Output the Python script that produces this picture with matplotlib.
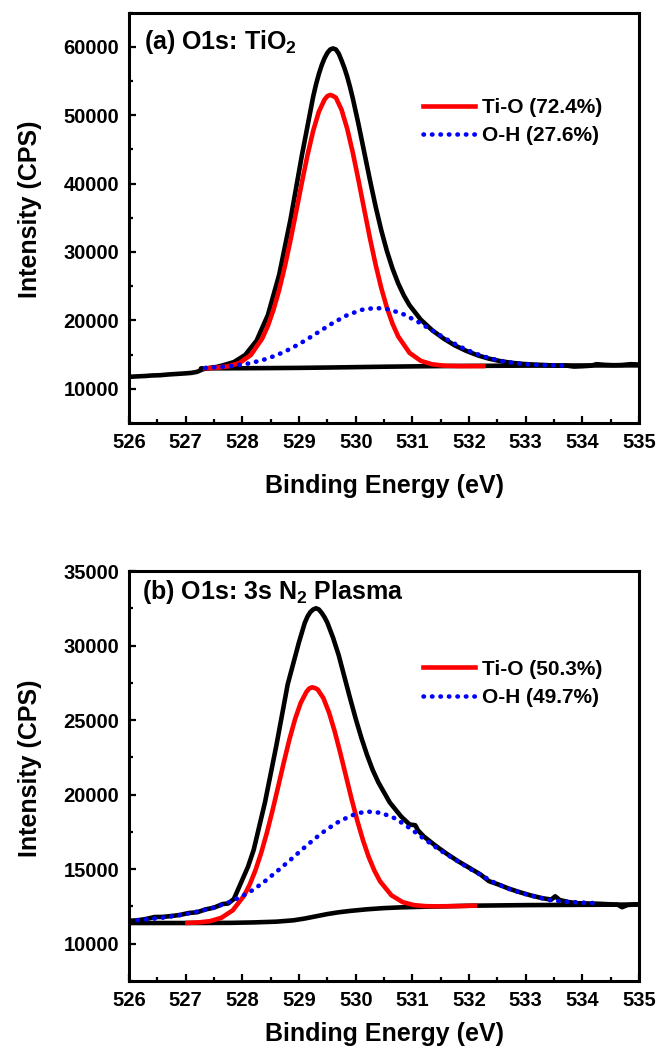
import matplotlib
matplotlib.use('Agg')
import matplotlib.pyplot as plt
from matplotlib.ticker import MultipleLocator

plt.rcParams['font.family'] = ['Liberation Sans', 'DejaVu Sans']
plt.rcParams['font.weight'] = 'bold'
plt.rcParams['mathtext.fontset'] = 'custom'
plt.rcParams['mathtext.rm'] = 'Liberation Sans:bold'
plt.rcParams['mathtext.bf'] = 'Liberation Sans:bold'
plt.rcParams['mathtext.it'] = 'Liberation Sans:bold'

# ---- (a) O1s of as-deposited TiO2 ----
a_raw_E = [526.00, 526.15, 526.30, 526.40, 526.55, 526.70, 526.85, 527.00, 527.10, 527.20,
           527.30, 527.45, 527.55, 527.65, 527.85, 528.05, 528.25, 528.45, 528.65, 528.85,
           529.05, 529.25, 529.30, 529.35, 529.40, 529.45, 529.50, 529.55, 529.60, 529.65,
           529.70, 529.75, 529.80, 529.85, 529.90, 529.95, 530.05,
           530.15, 530.25, 530.35, 530.45, 530.55, 530.65, 530.75, 530.85, 530.95, 531.15,
           531.35, 531.55, 531.75, 531.95, 532.15, 532.35, 532.55, 532.75, 532.95, 533.15,
           533.35, 533.55, 533.70, 533.85, 534.00, 534.15, 534.25, 534.40, 534.55, 534.70,
           534.85, 535.00]
a_raw_I = [11750, 11820, 11880, 11950, 11990, 12100, 12180, 12260, 12330, 12480,
           12850, 13100, 13200, 13420, 13905, 14950, 17030, 20780, 26700, 34800,
           44110, 52720, 54500, 56020, 57300, 58320, 59100, 59600, 59750, 59600,
           59000, 58000, 56900, 55620, 54100, 52410, 48640,
           44600, 40560, 36700, 33200, 30150, 27560, 25400, 23640, 22210, 20090,
           18560, 17355, 16340, 15550, 14900, 14410, 14050, 13800, 13640, 13540,
           13470, 13380, 13420, 13250, 13300, 13380, 13600, 13500, 13450, 13480,
           13600, 13550]

a_tio_E = [527.35, 527.55, 527.75, 527.95, 528.15, 528.35, 528.45, 528.55, 528.65, 528.75,
           528.85, 528.95, 529.05, 529.15, 529.25, 529.35, 529.45, 529.50, 529.55, 529.60,
           529.65, 529.75, 529.85, 529.95, 530.05, 530.15, 530.25, 530.35, 530.45, 530.55,
           530.65, 530.75, 530.95, 531.15, 531.35, 531.55, 531.85, 532.25]
a_tio_I = [13000, 13090, 13280, 13780, 14950, 17350, 19200, 21580, 24480, 27900,
           31760, 35930, 40150, 44180, 47730, 50510, 52280, 52780, 52950, 52800,
           52560, 50790, 48010, 44470, 40440, 36210, 32060, 28190, 24760, 21870,
           19500, 17650, 15250, 14080, 13580, 13390, 13320, 13320]

a_oh_E = [527.35, 527.60, 527.85, 528.10, 528.35, 528.60, 528.85, 529.10, 529.35, 529.60,
          529.85, 530.10, 530.35, 530.60, 530.85, 531.10, 531.35, 531.60, 531.85, 532.10,
          532.35, 532.60, 532.85, 533.10, 533.35, 533.70]
a_oh_I = [13060, 13180, 13370, 13690, 14180, 14890, 15850, 17020, 18330, 19640,
          20770, 21540, 21830, 21590, 20870, 19790, 18530, 17260, 16120, 15190,
          14500, 14020, 13720, 13540, 13450, 13380]

a_bg_E = [527.27, 528.0, 528.5, 529.0, 529.5, 530.0, 530.5, 531.0, 531.5, 532.0, 533.0, 534.0, 535.0]
a_bg_I = [12990, 13010, 13030, 13060, 13110, 13170, 13230, 13280, 13320, 13350, 13390, 13410, 13430]

# ---- (b) O1s after 3 s N2 plasma ----
b_raw_E = [526.00, 526.15, 526.30, 526.45, 526.60, 526.75, 526.90, 527.05, 527.20, 527.35,
           527.50, 527.65, 527.75, 527.85, 528.00, 528.10, 528.20, 528.40, 528.60, 528.80,
           529.00, 529.10, 529.15, 529.20, 529.25, 529.30, 529.35, 529.40, 529.45, 529.50,
           529.60, 529.70, 529.80, 529.90,
           530.00, 530.10, 530.20, 530.30, 530.40, 530.50, 530.60, 530.80, 530.95, 531.05,
           531.10, 531.20, 531.40, 531.60, 531.80, 532.00, 532.20, 532.35, 532.50, 532.70,
           532.90, 533.10, 533.30, 533.45, 533.52, 533.60, 533.75, 533.90, 534.10, 534.30,
           534.50, 534.62, 534.70, 534.80, 535.00]
b_raw_I = [11540, 11570, 11660, 11790, 11800, 11860, 11930, 12060, 12110, 12300,
           12420, 12660, 12700, 13000, 14300, 15170, 16300, 19500, 23300, 27400,
           30240, 31510, 31950, 32250, 32420, 32500, 32420, 32190, 31900, 31530,
           30530, 29350, 27910, 26475,
           25090, 23810, 22660, 21650, 20820, 20150, 19480, 18540, 18000, 17950,
           17600, 17200, 16600, 16050, 15550, 15100, 14650, 14200, 14000, 13700,
           13450, 13230, 13050, 12960, 13180, 12930, 12800, 12720, 12700, 12680,
           12640, 12620, 12450, 12600, 12650]

b_tio_E = [527.03, 527.23, 527.43, 527.63, 527.83, 528.03, 528.13, 528.23, 528.33, 528.43,
           528.53, 528.63, 528.73, 528.83, 528.93, 529.03, 529.13, 529.18, 529.23, 529.28,
           529.33, 529.43, 529.53, 529.63, 529.73, 529.83, 529.93, 530.03, 530.13, 530.23,
           530.33, 530.43, 530.63, 530.83, 531.03, 531.23, 531.43, 531.80, 532.10]
b_tio_I = [11400, 11430, 11515, 11740, 12240, 13225, 13975, 14920, 16070, 17410,
           18910, 20510, 22145, 23700, 25070, 26160, 26890, 27120, 27200, 27150,
           27050, 26470, 25500, 24230, 22765, 21210, 19665, 18220, 16920, 15810,
           14900, 14185, 13250, 12785, 12590, 12520, 12510, 12525, 12550]

b_oh_E = [526.00, 526.30, 526.60, 526.85, 527.10, 527.30, 527.50, 527.75, 528.00, 528.20,
          528.40, 528.65, 528.90, 529.15, 529.40, 529.65, 529.90, 530.05, 530.22, 530.45,
          530.70, 530.96, 531.20, 531.48, 531.75, 532.00, 532.25, 532.47, 532.70, 532.94,
          533.20, 533.42, 533.70, 534.06, 534.30]
b_oh_I = [11540, 11630, 11750, 11890, 12070, 12240, 12430, 12760, 13200, 13640,
          14200, 14980, 15800, 16640, 17420, 18080, 18560, 18770, 18860, 18780,
          18400, 17740, 17050, 16290, 15650, 15060, 14520, 14050, 13680, 13380,
          13130, 12930, 12820, 12750, 12710]

b_bg_E = [526.0, 527.0, 527.8, 528.2, 528.6, 528.9, 529.1, 529.3, 529.5, 529.7,
          529.9, 530.2, 530.5, 530.8, 531.2, 531.6, 532.0, 533.0, 534.0, 535.0]
b_bg_I = [11390, 11390, 11400, 11430, 11480, 11570, 11690, 11840, 11990, 12110,
          12200, 12310, 12390, 12440, 12480, 12510, 12550, 12590, 12610, 12630]

titles = [r'(a) O1s: TiO$_\mathbf{2}$', r'(b) O1s: 3s N$_\mathbf{2}$ Plasma']
legend_labels = [['Ti-O (72.4%)', 'O-H (27.6%)'], ['Ti-O (50.3%)', 'O-H (49.7%)']]
y_ranges = [(5000, 65000), (7500, 35000)]
y_steps = [10000, 5000]

fig = plt.figure(figsize=(6.72, 10.51), dpi=100)
ax_a = fig.add_axes([0.192, 0.5975, 0.759, 0.3906])
ax_b = fig.add_axes([0.192, 0.0666, 0.759, 0.3901])

panels = [
    (ax_a, a_raw_E, a_raw_I, a_tio_E, a_tio_I, a_oh_E, a_oh_I, a_bg_E, a_bg_I),
    (ax_b, b_raw_E, b_raw_I, b_tio_E, b_tio_I, b_oh_E, b_oh_I, b_bg_E, b_bg_I),
]

dots = (0, (0.1, 1.75))
title_pos = [(0.03, 0.928), (0.026, 0.949)]
legend_y = [0.792, 0.784]
xlabel_pad = [16, 9]

for i, (ax, rE, rI, tE, tI, oE, oI, gE, gI) in enumerate(panels):
    ax.plot(gE, gI, color='black', lw=3.3, solid_capstyle='round')
    ax.plot(rE, rI, color='black', lw=3.3, solid_joinstyle='round')
    h1, = ax.plot(tE, tI, color='#ff0000', lw=3.3, solid_joinstyle='round',
                  label=legend_labels[i][0])
    h2, = ax.plot(oE, oI, color='#0000ff', lw=3.3, linestyle=dots,
                  dash_capstyle='round', label=legend_labels[i][1])

    ax.set_xlim(526, 535)
    ax.set_ylim(*y_ranges[i])
    ax.xaxis.set_major_locator(MultipleLocator(1))
    ax.xaxis.set_minor_locator(MultipleLocator(0.5))
    ax.yaxis.set_major_locator(MultipleLocator(y_steps[i]))
    ax.yaxis.set_minor_locator(MultipleLocator(y_steps[i] / 2))
    ax.tick_params(which='both', direction='in', top=False, right=False, width=1.6)
    ax.tick_params(which='major', length=5, labelsize=14.5, pad=7)
    ax.tick_params(which='minor', length=3)
    for lab in ax.get_xticklabels() + ax.get_yticklabels():
        lab.set_fontweight('bold')
    for sp in ax.spines.values():
        sp.set_linewidth(2.2)

    ax.set_xlabel('Binding Energy (eV)', fontsize=18, fontweight='bold', labelpad=xlabel_pad[i])
    ax.set_ylabel('Intensity (CPS)', fontsize=18, fontweight='bold')
    ax.yaxis.set_label_coords(-0.17, 0.52)

    ax.text(title_pos[i][0], title_pos[i][1], titles[i], transform=ax.transAxes,
            fontsize=18, fontweight='bold', va='center', ha='left')

    ax.legend(handles=[h1, h2], loc='upper left', bbox_to_anchor=(0.5765, legend_y[i]),
              frameon=False, handlelength=2.5, handletextpad=0.35,
              labelspacing=0.45, borderpad=0, borderaxespad=0,
              prop={'weight': 'bold', 'size': 15})

fig.savefig('out.png', dpi=100)
